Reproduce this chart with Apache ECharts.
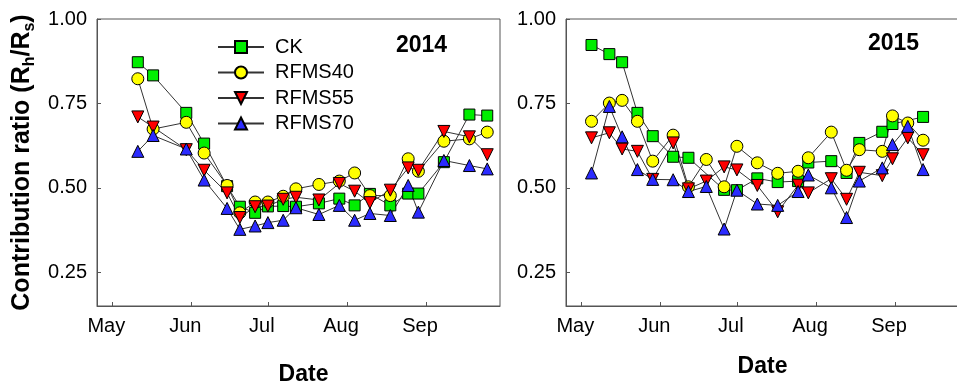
<!DOCTYPE html>
<html><head><meta charset="utf-8">
<script src="https://cdn.jsdelivr.net/npm/echarts@6/dist/echarts.min.js"></script>
<style>html,body{margin:0;padding:0;background:#fff}#c{width:957px;height:384px}</style>
</head><body><div id="c"></div>
<script>
// ---- data ----
const seriesNames = ['CK', 'RFMS40', 'RFMS55', 'RFMS70'];
const years = ['2014', '2015'];
const monthTicks = ['05-01', '06-01', '07-01', '08-01', '09-01'];
const monthLabels = ['May', 'Jun', 'Jul', 'Aug', 'Sep'];
const yTicks = [0.25, 0.50, 0.75, 1.00];

const dates2014 = ['05-11','05-17','05-30','06-06','06-15','06-20','06-26','07-01','07-07','07-12',
                   '07-21','07-29','08-04','08-10','08-18','08-25','08-29','09-08','09-18','09-25'];
const ck2014     = [0.872,0.833,0.722,0.631,0.505,0.444,0.426,0.445,0.446,0.444,0.454,0.468,0.448,0.482,0.448,0.483,0.483,0.576,0.717,0.714];
const rfms40_2014 = [0.823,0.674,0.694,0.603,0.507,0.426,0.458,0.458,0.475,0.497,0.510,0.520,0.544,0.477,0.477,0.586,0.549,0.638,0.645,0.665];
const rfms55_2014 = [0.710,0.680,0.613,0.552,0.485,0.412,0.444,0.446,0.466,0.472,0.464,0.513,0.490,0.456,0.493,0.559,0.552,0.667,0.651,0.598];
const rfms70_2014 = [0.608,0.655,0.615,0.523,0.439,0.377,0.387,0.397,0.404,0.441,0.421,0.448,0.404,0.424,0.418,0.507,0.428,0.581,0.566,0.556];

const dates2015 = ['05-05','05-12','05-17','05-23','05-29','06-06','06-12','06-19','06-26','07-01','07-09',
                   '07-17','07-25','07-29','08-07','08-13','08-18','08-27','08-31','09-06','09-12'];
const ck2015     = [0.923,0.896,0.872,0.722,0.653,0.592,0.589,null,0.494,0.493,0.528,0.517,0.520,0.575,0.579,0.544,0.633,0.666,0.689,null,0.710];
const rfms40_2015 = [0.697,0.751,0.759,0.697,0.579,0.656,0.503,0.584,0.503,0.623,0.574,0.543,0.549,0.589,0.665,0.552,0.613,0.608,0.713,0.692,0.641];
const rfms55_2015 = [0.648,0.663,0.615,0.608,0.525,0.633,0.497,0.520,0.562,0.553,0.507,0.429,0.508,0.485,0.527,0.466,0.546,0.536,0.586,0.648,0.598];
const rfms70_2015 = [0.544,0.741,0.651,0.554,0.525,0.524,0.489,0.504,0.378,0.493,0.452,0.448,0.489,0.538,0.500,0.412,0.520,0.559,0.628,0.682,0.554];

// ---- build ----
const FONT = '"Liberation Sans", Arial, sans-serif';
function doy(md) {
  const p = md.split('-').map(Number);
  return (Date.UTC(2014, p[0] - 1, p[1]) - Date.UTC(2014, 0, 1)) / 864e5 + 1;
}
const monthDoy = monthTicks.map(doy);
const styles = [
  {symbol: 'rect', size: 11, rotate: 0, color: '#00ee00'},
  {symbol: 'circle', size: 12, rotate: 0, color: '#ffff00'},
  {symbol: 'triangle', size: 12, rotate: 180, color: '#ff0000'},
  {symbol: 'triangle', size: 12, rotate: 0, color: '#2b2bff'}
];
const yearData = [
  {dates: dates2014, vals: [ck2014, rfms40_2014, rfms55_2014, rfms70_2014]},
  {dates: dates2015, vals: [ck2015, rfms40_2015, rfms55_2015, rfms70_2015]}
];

const grids = [
  {left: 97, top: 19, width: 403, height: 287, show: true, borderColor: '#555', borderWidth: 1, outerBoundsMode: 'none', containLabel: false},
  {left: 566, top: 19, width: 403, height: 287, show: true, borderColor: '#555', borderWidth: 1, outerBoundsMode: 'none', containLabel: false}
];
const xAxes = [0, 1].map(i => ({
  type: 'value', gridIndex: i, min: 115, max: 273,
  axisLine: {show: true, lineStyle: {color: '#555', width: 1}},
  axisTick: {show: true, customValues: monthDoy, inside: true, length: 4, lineStyle: {color: '#555'}},
  axisLabel: {customValues: monthDoy, formatter: v => monthLabels[monthDoy.indexOf(v)],
    fontSize: 20, fontFamily: FONT, color: '#000', margin: 10, padding: [0, 12, 0, 0]},
  splitLine: {show: false},
  name: 'Date', nameLocation: 'middle', nameGap: i === 0 ? 57 : 49,
  nameTextStyle: {fontSize: 23, fontWeight: 'bold', fontFamily: FONT, color: '#000',
    padding: i === 0 ? [0, 0, 0, 10] : [0, 10, 0, 0]}
}));
const yAxes = [0, 1].map(i => ({
  type: 'value', gridIndex: i, min: 0.15, max: 1.0,
  axisLine: {show: true, lineStyle: {color: '#555', width: 1}},
  axisTick: {show: true, customValues: yTicks, inside: true, length: 4, lineStyle: {color: '#555'}},
  axisLabel: {customValues: yTicks, formatter: v => v.toFixed(2),
    fontSize: 20, fontFamily: FONT, color: '#000', margin: 10},
  splitLine: {show: false},
  name: i === 0 ? '{a|Contribution ratio (R}{s|h}{a|/R}{s|s}{a|)}' : '',
  nameLocation: 'middle', nameGap: 59,
  nameTextStyle: {rich: {
    a: {fontSize: 25, fontWeight: 'bold', fontFamily: FONT, color: '#000', lineHeight: 28, verticalAlign: 'top'},
    s: {fontSize: 16, fontWeight: 'bold', fontFamily: FONT, color: '#000', lineHeight: 16, padding: [12, 0, 0, 0], verticalAlign: 'top'}
  }}
}));

const series = [];
yearData.forEach((yd, gi) => {
  seriesNames.forEach((name, si) => {
    const st = styles[si];
    const data = [];
    yd.dates.forEach((d, k) => { if (yd.vals[si][k] != null) data.push([doy(d), yd.vals[si][k]]); });
    series.push({
      type: 'line', name, xAxisIndex: gi, yAxisIndex: gi, data,
      symbol: st.symbol, symbolSize: st.size, symbolRotate: st.rotate,
      lineStyle: {color: '#333', width: 1},
      itemStyle: {color: st.color, borderColor: '#000', borderWidth: 1},
      emphasis: {disabled: true}, animation: false
    });
  });
});

const chart = echarts.init(document.getElementById('c'), null, {renderer: 'canvas'});
chart.setOption({
  animation: false,
  grid: grids, xAxis: xAxes, yAxis: yAxes, series,
  legend: {
    data: seriesNames, orient: 'vertical', left: 217, top: 37, padding: 0,
    itemWidth: 46, itemHeight: 15, itemGap: 5.5,
    textStyle: {fontSize: 20, fontFamily: FONT, color: '#000', lineHeight: 20, padding: [0, 0, 0, 6]},
    selectedMode: false
  },
  graphic: [
    {type: 'text', left: 423 - 27, top: 34, style: {text: years[0], font: 'bold 23px ' + FONT, fill: '#000'}},
    {type: 'text', left: 895 - 27, top: 32, style: {text: years[1], font: 'bold 23px ' + FONT, fill: '#000'}}
  ]
});
</script></body></html>
